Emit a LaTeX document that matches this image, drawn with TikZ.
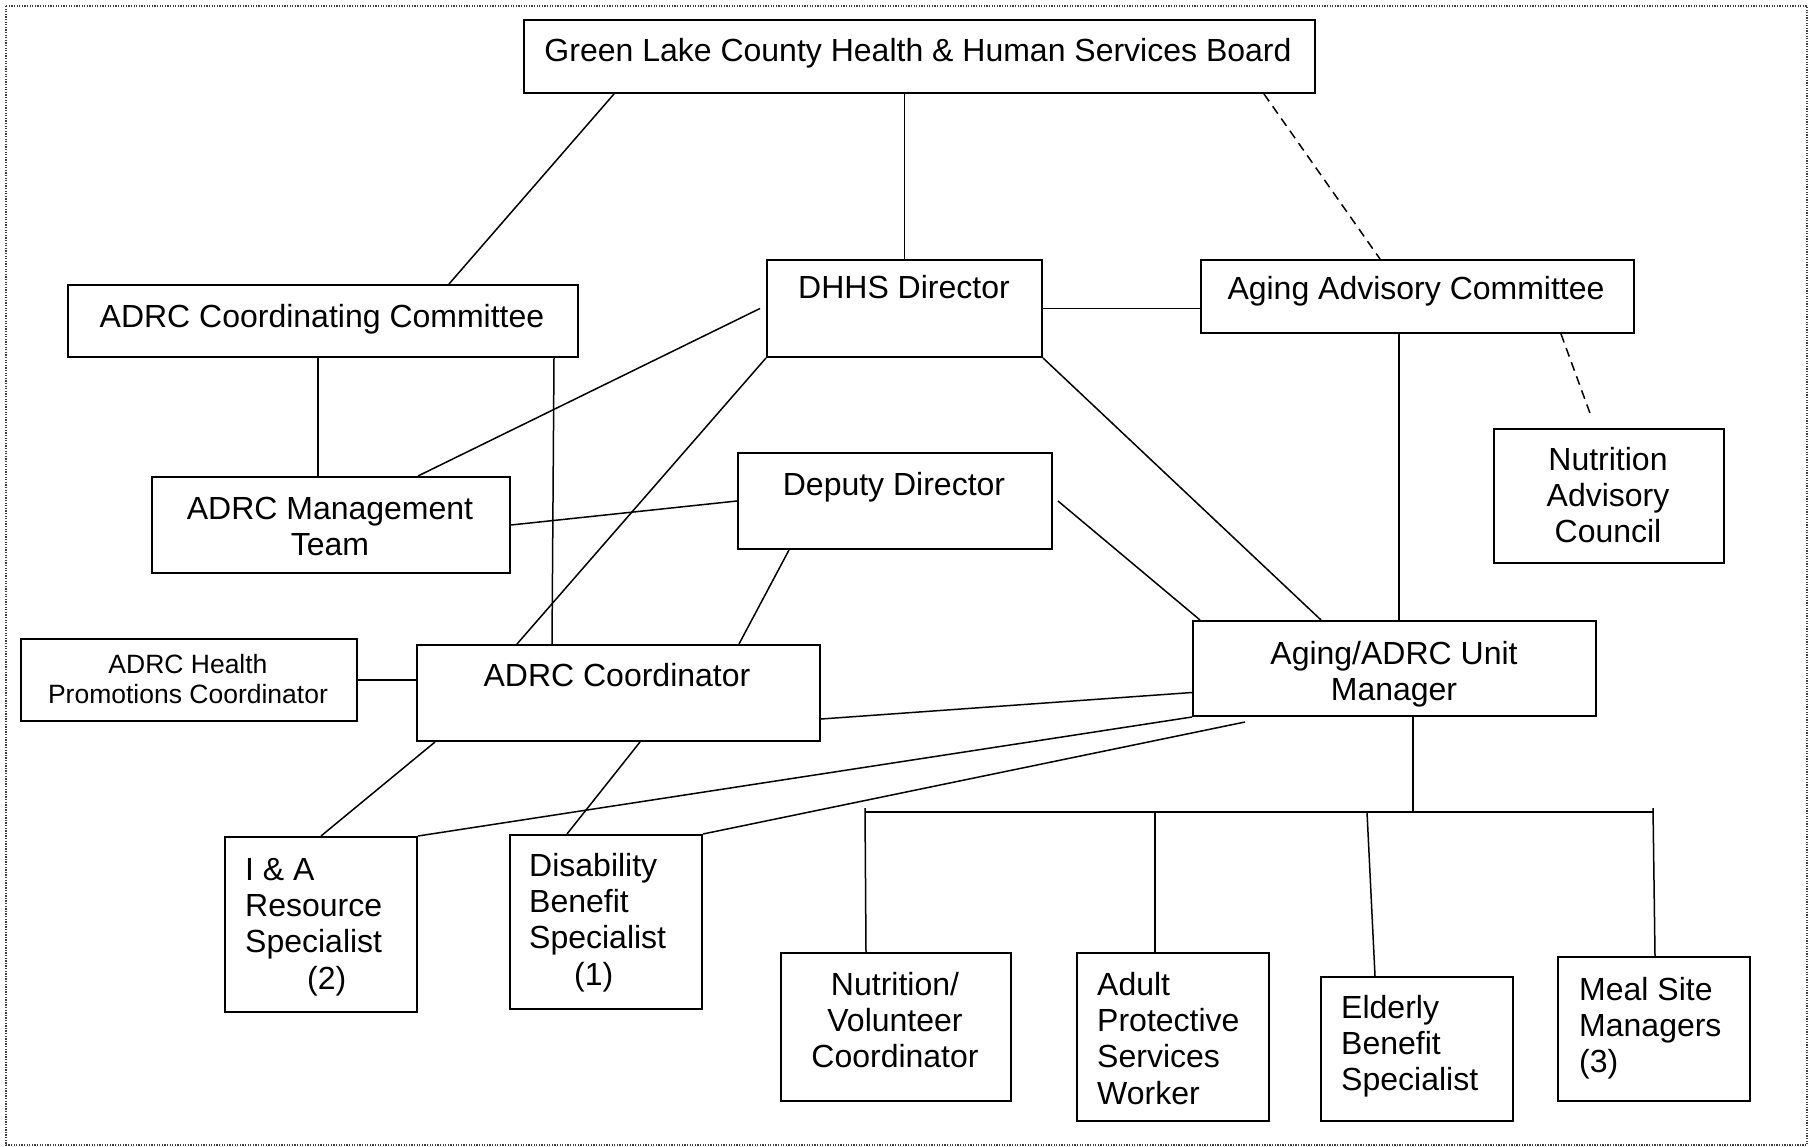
\documentclass[tikz,border=0pt]{standalone}
\usepackage{fontspec}
\setmainfont{Liberation Sans}
\newcommand\chartfont{\fontsize{32}{36.3}\selectfont}
\newcommand\smallchartfont{\fontsize{26.5}{30}\selectfont}
\tikzset{
  orgbox/.style={draw, line width=2pt, inner sep=0pt, anchor=north west},
  boxtext/.style={inner sep=0pt, anchor=north, align=center, font=\chartfont},
  boxtextl/.style={inner sep=0pt, anchor=north west, align=left, font=\chartfont},
  link/.style={line width=1.5pt},
  advisory/.style={line width=1.5pt, dash pattern=on 9pt off 6pt}
}
\begin{document}
\begin{tikzpicture}[x=1pt, y=-1pt]
\useasboundingbox (0,0) rectangle (1811,1147);
% Frame
\draw[line width=1.3pt, black!75, dash pattern=on 1.3pt off 1.3pt] (6,6) rectangle (1807,1145);

% Boxes, top row
\node[orgbox, minimum width=791pt, minimum height=73pt] (board) at (523,19) {};
\node[orgbox, minimum width=510pt, minimum height=72pt] (cttee) at (67,284) {};
\node[orgbox, minimum width=275pt, minimum height=97pt] (dhhs) at (766,259) {};
\node[orgbox, minimum width=433pt, minimum height=73pt] (aac) at (1200,259) {};

% Boxes, middle rows
\node[orgbox, minimum width=358pt, minimum height=96pt] (mgmt) at (151,476) {};
\node[orgbox, minimum width=314pt, minimum height=96pt] (deputy) at (737,452) {};
\node[orgbox, minimum width=230pt, minimum height=134pt] (nac) at (1493,428) {};
\node[orgbox, minimum width=336pt, minimum height=82pt] (health) at (20,638) {};
\node[orgbox, minimum width=403pt, minimum height=96pt] (adrc) at (416,644) {};
\node[orgbox, minimum width=403pt, minimum height=95pt] (unit) at (1192,620) {};

% Boxes, staff
\node[orgbox, minimum width=192pt, minimum height=175pt] (ia) at (224,836) {};
\node[orgbox, minimum width=192pt, minimum height=174pt] (disab) at (509,834) {};
\node[orgbox, minimum width=230pt, minimum height=148pt] (nutr) at (780,952) {};
\node[orgbox, minimum width=192pt, minimum height=168pt] (aps) at (1076,952) {};
\node[orgbox, minimum width=192pt, minimum height=144pt] (elder) at (1320,976) {};
\node[orgbox, minimum width=192pt, minimum height=144pt] (meal) at (1557,956) {};

% Texts
\node[boxtext] (board-t) at (918,38) {Green Lake County Health \& Human Services Board};
\node[boxtext] (cttee-t) at (322,304) {ADRC Coordinating Committee};
\node[boxtext] (dhhs-t) at (904,275) {DHHS Director};
\node[boxtext] (aac-t) at (1416,276) {Aging Advisory Committee};
\node[boxtext] (mgmt-t) at (330,497) {ADRC Management\\Team};
\node[boxtext] (deputy-t) at (894,472) {Deputy Director};
\node[boxtext] (nac-t) at (1608,447) {Nutrition\\Advisory\\Council};
\node[boxtext, font=\smallchartfont] (health-t) at (188,654) {ADRC Health\\Promotions Coordinator};
\node[boxtext] (adrc-t) at (617,663) {ADRC Coordinator};
\node[boxtext] (unit-t) at (1394,641) {Aging/ADRC Unit\\Manager};
\node[boxtextl] (ia-t) at (245,858) {I \& A\\Resource\\Specialist\\\hspace*{62pt}(2)};
\node[boxtextl] (disab-t) at (529,853) {Disability\\Benefit\\Specialist\\\hspace*{45pt}(1)};
\node[boxtext] (nutr-t) at (895,972) {Nutrition/\\Volunteer\\Coordinator};
\node[boxtextl] (aps-t) at (1097,972) {Adult\\Protective\\Services\\Worker};
\node[boxtextl] (elder-t) at (1341,995) {Elderly\\Benefit\\Specialist};
\node[boxtextl] (meal-t) at (1579,977) {Meal Site\\Managers\\(3)};

% Lines from the board
\draw[link] ([xshift=91pt]board.south west) -- ([xshift=382pt]cttee.north west);
\draw[link] (dhhs.north |- board.south) -- (dhhs.north);
\draw[advisory] ([xshift=-52pt]board.south east) -- ([xshift=180pt]aac.north west);

% Lines from the director and committees
\draw[link] (dhhs.east) -- (dhhs.east -| aac.west);
\draw[link] ([xshift=251pt]cttee.south west) -- ([xshift=167pt]mgmt.north west);
\draw[link] ([xshift=-25pt]cttee.south east) -- ([xshift=136pt]adrc.north west);
\draw[link] ([xshift=-6pt]dhhs.west) -- ([xshift=267pt]mgmt.north west);
\draw[link] (dhhs.south west) -- ([xshift=101pt]adrc.north west);
\draw[link] (dhhs.south east) -- ([xshift=129pt]unit.north west);
\draw[link] ([xshift=199pt]aac.south west) -- ([xshift=207pt]unit.north west);
\draw[advisory] ([xshift=-74pt]aac.south east) -- ([xshift=98pt,yshift=12pt]nac.north west);

% Lines from the deputy
\draw[link] (mgmt.east) -- (deputy.west);
\draw[link] ([xshift=52pt]deputy.south west) -- ([xshift=-82pt]adrc.north east);
\draw[link] ([xshift=5pt]deputy.east) -- ([xshift=8pt]unit.north west);

% Lines around the ADRC coordinator
\draw[link] (health.east) -- (health.east -| adrc.west);
\draw[link] ([yshift=-26pt]adrc.east) -- ([yshift=-24pt]unit.west);
\draw[link] ([xshift=19pt]adrc.south west) -- ([xshift=97pt]ia.north west);
\draw[link] ([xshift=224pt]adrc.south west) -- ([xshift=58pt]disab.north west);
\draw[link] (ia.north east) -- (unit.south west);
\draw[link] (disab.north east) -- ([xshift=53pt,yshift=-5pt]unit.south west);

% Bus under the unit manager
\coordinate (busL) at (865,812);
\coordinate (busA) at (1155,812);
\coordinate (busM) at (1413,812);
\coordinate (busE) at (1367,812);
\coordinate (busR) at (1653,812);
\draw[link, line width=2pt] (busL) -- (busR);
\draw[link] (busM |- unit.south) -- (busM);
\draw[link] ([yshift=4pt]busL) -- ([xshift=86pt]nutr.north west);
\draw[link] (busA) -- (busA |- aps.north);
\draw[link] (busE) -- ([xshift=55pt]elder.north west);
\draw[link] ([yshift=4pt]busR) -- ([xshift=98pt]meal.north west);
\end{tikzpicture}
\end{document}
